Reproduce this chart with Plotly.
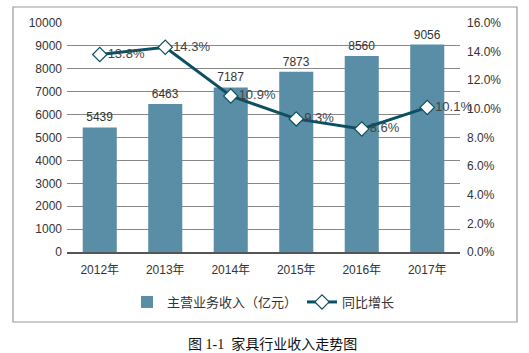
import plotly.graph_objects as go

years = ["2012年", "2013年", "2014年", "2015年", "2016年", "2017年"]
revenue = [5439, 6463, 7187, 7873, 8560, 9056]
growth = [13.8, 14.3, 10.9, 9.3, 8.6, 10.1]
bar_name = "主营业务收入（亿元）"
line_name = "同比增长"
caption = "图 1-1  家具行业收入走势图"

W, H = 529, 353
L, R, T, B = 67, 69, 23, 101
pw, ph = W - L - R, H - T - B

def px(x):
    return (x - L) / pw

def py(y):
    return (H - B - y) / ph

fig = go.Figure()
fig.add_trace(go.Bar(
    x=years, y=revenue, name=bar_name,
    marker=dict(color="#5a8ea6", line=dict(width=0)),
    width=0.52,
    text=[str(v) for v in revenue], textposition="outside",
    textfont=dict(size=12, color="#333333"),
    cliponaxis=False,
))
fig.add_trace(go.Scatter(
    x=years, y=growth, name=line_name, yaxis="y2",
    mode="lines+markers+text",
    line=dict(color="#0d4f63", width=3),
    marker=dict(symbol="diamond", size=11, color="white",
                line=dict(color="#0d4f63", width=1.2)),
    text=[f"{v:.1f}%" for v in growth], textposition="middle right",
    textfont=dict(size=13, color="#444444"),
    cliponaxis=False,
))

fig.update_layout(
    width=W, height=H,
    margin=dict(l=L, r=R, t=T, b=B),
    paper_bgcolor="white", plot_bgcolor="white",
    font=dict(family="Liberation Sans, Arial, Noto Sans CJK SC", size=12, color="#333333"),
    bargap=0.48,
    xaxis=dict(showgrid=False, showline=True, linecolor="#555555", linewidth=1.5,
               ticks="", ticklabelstandoff=6, tickfont=dict(size=12, color="#333333")),
    yaxis=dict(range=[0, 10000], dtick=1000, tickformat="d", showgrid=True, gridcolor="#888888",
               gridwidth=1, zeroline=False, showline=False, ticks="", ticklabelstandoff=4,
               tickfont=dict(size=12, color="#333333")),
    yaxis2=dict(range=[0, 16], dtick=2, overlaying="y", side="right",
                showgrid=False, zeroline=False, ticksuffix="%", tickformat=".1f",
                ticks="", ticklabelstandoff=6, tickfont=dict(size=12, color="#333333")),
    legend=dict(orientation="h", x=0.5, xanchor="center", y=py(302), yanchor="middle",
                font=dict(size=13, color="#333333"), traceorder="normal"),
    showlegend=True,
    shapes=[dict(type="rect", xref="paper", yref="paper",
                 x0=px(13), x1=px(517), y0=py(322), y1=py(7),
                 line=dict(color="#999999", width=1.2), fillcolor="rgba(0,0,0,0)", layer="below")],
    annotations=[dict(text=caption, xref="paper", yref="paper", x=px(272), y=py(344),
                      xanchor="center", yanchor="middle", showarrow=False,
                      font=dict(family="Liberation Serif, Noto Sans CJK SC", size=14, color="#111111"))],
)

fig.write_html("out.html")
